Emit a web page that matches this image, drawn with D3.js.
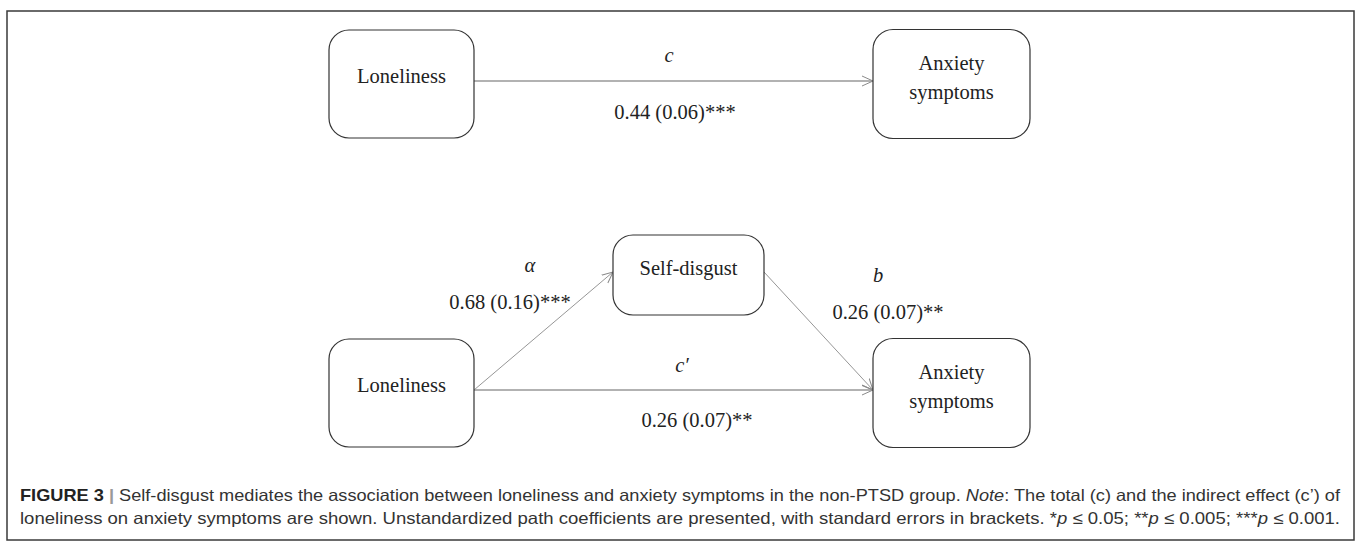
<!DOCTYPE html>
<html>
<head>
<meta charset="utf-8">
<script src="https://cdn.jsdelivr.net/npm/d3@7"></script>
<style>
	body { margin: 0; background: #fff; }
	svg { display: block; }
</style>
</head>
<body>
<svg id="fig" width="1360" height="542"></svg>
<script>
// node names (top model and mediation model)
const nodeNames = ["Loneliness", "Self-disgust", "Anxiety symptoms"];
// path symbols and coefficients: c, a, b, c'
const pathNames = ["c", "α", "b", "c′"];
const pathCoefs = ["0.44 (0.06)***", "0.68 (0.16)***", "0.26 (0.07)**", "0.26 (0.07)**"];
const captionNote = "Note";

const svg = d3.select("#fig");

// layout grid: column / row -> pixel
const x = d3.scaleOrdinal().domain(["left", "mid", "right"]).range([401.5, 688.5, 951.5]);
const y = d3.scaleOrdinal().domain(["top", "upper", "lower"]).range([84, 275, 393]);

const boxSize = {
	Loneliness: [145, 108],
	"Self-disgust": [151, 80],
	"Anxiety symptoms": [157, 109]
};

const nodes = [
	{ name: nodeNames[0], col: "left", row: "top" },
	{ name: nodeNames[2], col: "right", row: "top" },
	{ name: nodeNames[0], col: "left", row: "lower" },
	{ name: nodeNames[1], col: "mid", row: "upper" },
	{ name: nodeNames[2], col: "right", row: "lower" }
];
nodes.forEach(n => {
	n.cx = x(n.col);
	n.cy = y(n.row);
	n.w = boxSize[n.name][0];
	n.h = boxSize[n.name][1];
});

// outer frame
svg.append("rect")
	.attr("x", 7).attr("y", 11)
	.attr("width", 1347).attr("height", 529)
	.attr("fill", "none")
	.attr("stroke", "#3a3a3a")
	.attr("stroke-width", 1.5);

// arrow heads
const defs = svg.append("defs");
defs.append("marker")
	.attr("id", "arrowHead")
	.attr("viewBox", "0 0 12 12")
	.attr("refX", 11).attr("refY", 6)
	.attr("markerWidth", 12).attr("markerHeight", 12)
	.attr("markerUnits", "userSpaceOnUse")
	.attr("orient", "auto")
	.append("path")
	.attr("d", "M0,1 L11,6 L0,11")
	.attr("fill", "none")
	.attr("stroke", "#8a8a8a")
	.attr("stroke-width", 1);

const edge = (a, b) => {
	// from right side of a to left side of b
	const x1 = a.cx + a.w / 2, x2 = b.cx - b.w / 2;
	const y1 = a.cy - 3, y2 = b.cy - 3;
	return { x1, y1, x2, y2 };
};

const paths = [
	Object.assign(edge(nodes[0], nodes[1]), { name: pathNames[0], coef: pathCoefs[0] }),
	Object.assign(edge(nodes[2], nodes[3]), { name: pathNames[1], coef: pathCoefs[1] }),
	Object.assign(edge(nodes[3], nodes[4]), { name: pathNames[2], coef: pathCoefs[2] }),
	Object.assign(edge(nodes[2], nodes[4]), { name: pathNames[3], coef: pathCoefs[3] })
];

svg.append("g")
	.selectAll("line")
	.data(paths)
	.join("line")
	.attr("x1", d => d.x1).attr("y1", d => d.y1)
	.attr("x2", d => d.x2).attr("y2", d => d.y2)
	.attr("stroke", (d, i) => (i === 0 || i === 3) ? "#999" : "#8a8a8a")
	.attr("stroke-width", (d, i) => (i === 0 || i === 3) ? 1.4 : 0.9)
	.attr("marker-end", "url(#arrowHead)");

// boxes
const gNodes = svg.append("g")
	.selectAll("g")
	.data(nodes)
	.join("g");

gNodes.append("rect")
	.attr("x", d => d.cx - d.w / 2)
	.attr("y", d => d.cy - d.h / 2)
	.attr("width", d => d.w)
	.attr("height", d => d.h)
	.attr("rx", 20).attr("ry", 20)
	.attr("fill", "#fff")
	.attr("stroke", "#333")
	.attr("stroke-width", 1.2);

gNodes.each(function (d) {
	const words = d.name === "Anxiety symptoms" ? ["Anxiety", "symptoms"] : [d.name];
	const t = d3.select(this).append("text")
		.attr("text-anchor", "middle")
		.attr("font-family", "'Liberation Serif', 'Times New Roman', serif")
		.attr("font-size", 20.5)
		.attr("fill", "#222");
	const off = words.length === 2 ? [-21, 8] : (d.h < 90 ? [-7] : [-8]);
	words.forEach((w, i) => {
		t.append("tspan")
			.attr("x", d.cx)
			.attr("y", d.cy + off[i])
			.attr("dy", "0.35em")
			.text(w);
	});
});

// path label anchors
const labelPos = [
	{ nx: 669, ny: 55, cx: 675, cy: 112 },
	{ nx: 530, ny: 265, cx: 510, cy: 302 },
	{ nx: 878, ny: 275, cx: 888, cy: 312 },
	{ nx: 682, ny: 365, cx: 697, cy: 420 }
];

const gLabels = svg.append("g")
	.attr("font-family", "'Liberation Serif', 'Times New Roman', serif")
	.attr("font-size", 20.5)
	.attr("fill", "#222")
	.attr("text-anchor", "middle");

gLabels.selectAll("text.sym")
	.data(paths)
	.join("text")
	.attr("class", "sym")
	.attr("x", (d, i) => labelPos[i].nx)
	.attr("y", (d, i) => labelPos[i].ny)
	.attr("dy", "0.35em")
	.attr("font-style", "italic")
	.text(d => d.name);

gLabels.selectAll("text.coef")
	.data(paths)
	.join("text")
	.attr("class", "coef")
	.attr("x", (d, i) => labelPos[i].cx)
	.attr("y", (d, i) => labelPos[i].cy)
	.attr("dy", "0.35em")
	.text(d => d.coef);

// caption
const cap = svg.append("g")
	.attr("font-family", "'Liberation Sans Narrow', 'Liberation Sans', Arial, sans-serif")
	.attr("font-size", 16.5)
	.attr("fill", "#333");

const line1 = cap.append("text").attr("x", 20).attr("y", 501)
	.attr("textLength", 1320).attr("lengthAdjust", "spacingAndGlyphs");
line1.append("tspan").attr("font-weight", "bold").attr("fill", "#222").text("FIGURE 3");
line1.append("tspan").attr("fill", "#999").attr("font-weight", "bold").text(" | ");
line1.append("tspan").text("Self-disgust mediates the association between loneliness and anxiety symptoms in the non-PTSD group. ");
line1.append("tspan").attr("font-style", "italic").text(captionNote);
line1.append("tspan").text(": The total (c) and the indirect effect (c’) of");

const line2 = cap.append("text").attr("x", 20).attr("y", 524)
	.attr("textLength", 1320).attr("lengthAdjust", "spacingAndGlyphs");
line2.append("tspan").text("loneliness on anxiety symptoms are shown. Unstandardized path coefficients are presented, with standard errors in brackets. *");
line2.append("tspan").attr("font-style", "italic").text("p");
line2.append("tspan").text(" ≤ 0.05; **");
line2.append("tspan").attr("font-style", "italic").text("p");
line2.append("tspan").text(" ≤ 0.005; ***");
line2.append("tspan").attr("font-style", "italic").text("p");
line2.append("tspan").text(" ≤ 0.001.");
</script>
</body>
</html>
